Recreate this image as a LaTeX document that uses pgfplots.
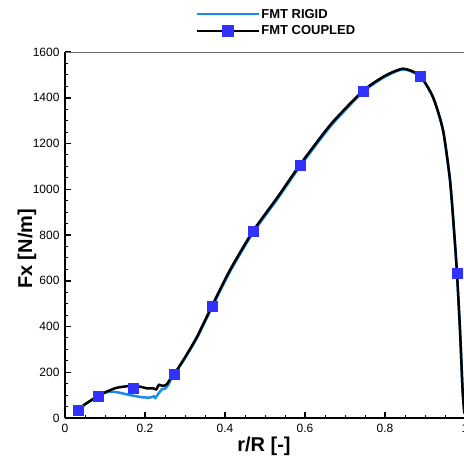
\documentclass[border=0pt]{standalone}
\usepackage{pgfplots}
\pgfplotsset{compat=1.18}
\usepackage{fontspec}
\setmainfont{Liberation Sans}
\definecolor{rigid}{RGB}{20,140,240}
\definecolor{mk}{RGB}{50,50,255}
\begin{document}
\begin{tikzpicture}
\begin{axis}[
  scale only axis, width=400pt, height=366pt,
  xmin=0, xmax=1, ymin=0, ymax=1600,
  axis lines*=left,
  axis line style={line width=2pt},
  xtick={0,0.2,0.4,0.6,0.8,1}, ytick={0,200,...,1600},
  xticklabels={0,0.2,0.4,0.6,0.8,1},
  minor x tick num=3, minor y tick num=3,
  tick align=inside,
  major tick length=6pt, minor tick length=3.5pt,
  every major tick/.style={line width=1.5pt, black},
  every minor tick/.style={line width=0.9pt, black},
  /pgf/number format/assume math mode=true,
  /pgf/number format/1000 sep={},
  ticklabel style={font=\fontsize{12}{14}\selectfont},
  xticklabel style={yshift=-3pt},
  yticklabel style={xshift=-2pt},
  xlabel={r/R [-]}, ylabel={Fx [N/m]},
  xlabel style={font=\fontsize{20}{22}\selectfont\bfseries, at={(axis description cs:0.4975,-0.0765)}, anchor=center},
  ylabel style={font=\fontsize{20}{22}\selectfont\bfseries, at={(axis description cs:-0.095,0.462)}, anchor=center, rotate=0},
  legend style={draw=none, fill=none, at={(axis description cs:0.5275,1.0806)}, anchor=center,
    font=\fontsize{13}{15}\selectfont\bfseries, legend cell align=left, row sep=4pt, inner sep=0pt,
    nodes={inner sep=1pt}},
  legend image code/.code={\draw[mark repeat=2,mark phase=2,#1] plot coordinates {(0pt,0pt)(31pt,0pt)(62pt,0pt)};},
  clip=false,
]
\addplot[rigid, line width=2.5pt, smooth, tension=0.4] coordinates {
(0.025,25)(0.0325,35)(0.05,60)(0.0825,96)(0.104,113)(0.129,113)(0.1625,100)(0.196,90)
(0.215,90)(0.222,95)(0.226,88)(0.235,110)(0.242,125)(0.25,128)(0.258,145)(0.268,180)
(0.2725,190)(0.30,262)(0.33,350)(0.3675,484)(0.4125,640)(0.47,810)(0.53,955)(0.5875,1100)
(0.665,1278)(0.745,1425)(0.8,1492)(0.846,1524)(0.8875,1494)(0.92,1401)(0.945,1257)
(0.9625,1038)(0.9725,820)(0.98,630)(0.9875,383)(0.994,120)(0.9985,20)};
\addlegendentry{FMT RIGID}
\addplot[black, line width=2.5pt, smooth, tension=0.4, forget plot] coordinates {
(0.025,25)(0.0325,35)(0.05,60)(0.0825,96)(0.104,115)(0.129,132)(0.1625,140)(0.1875,137)
(0.204,130)(0.22,130)(0.228,125)(0.235,145)(0.245,140)(0.255,148)(0.262,168)(0.2725,190)
(0.30,265)(0.33,355)(0.3675,490)(0.4125,647)(0.47,817)(0.53,962)(0.5875,1107)
(0.665,1285)(0.745,1430)(0.8,1496)(0.846,1527)(0.8875,1496)(0.92,1403)(0.945,1259)
(0.9625,1040)(0.9725,822)(0.98,632)(0.9875,385)(0.994,122)(0.9985,20)};
\addplot[only marks, mark=square*, mark size=5pt, mark options={draw=mk, fill=mk}, forget plot] coordinates {
(0.0325,35)(0.0825,96)(0.17,131)(0.2725,190)(0.3675,490)(0.47,817)(0.5875,1107)(0.745,1430)(0.8875,1496)(0.98,632)};
\addlegendimage{black, line width=2.5pt, mark=square*, mark size=5pt, mark options={draw=mk, fill=mk}}
\addlegendentry{FMT COUPLED}
\draw[gray!80!black, line width=1pt] (rel axis cs:0,1) -- (rel axis cs:1,1);
\end{axis}
\pgfresetboundingbox
\path[use as bounding box] (-65pt,-41pt) rectangle (399pt,418pt);
\end{tikzpicture}
\end{document}
